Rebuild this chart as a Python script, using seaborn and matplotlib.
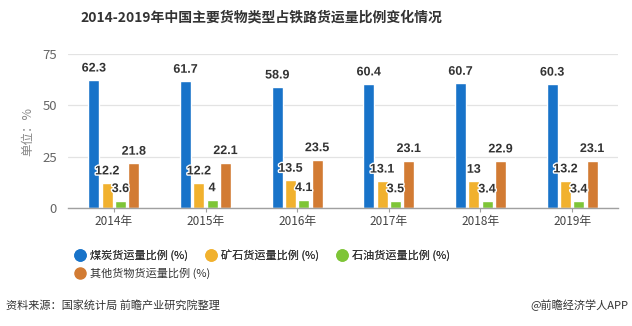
import matplotlib
matplotlib.use("Agg")
import matplotlib.pyplot as plt
import matplotlib.patheffects as pe
from matplotlib.lines import Line2D
import pandas as pd
import seaborn as sns

years = ["2014年", "2015年", "2016年", "2017年", "2018年", "2019年"]
coal = [62.3, 61.7, 58.9, 60.4, 60.7, 60.3]
ore = [12.2, 12.2, 13.5, 13.1, 13, 13.2]
oil = [3.6, 4, 4.1, 3.5, 3.4, 3.4]
other = [21.8, 22.1, 23.5, 23.1, 22.9, 23.1]
series_names = ["煤炭货运量比例 (%)", "矿石货运量比例 (%)", "石油货运量比例 (%)", "其他货物货运量比例 (%)"]
colors = ["#1873c9", "#f1b12e", "#7ec537", "#d27b33"]
y_ticks = [0, 25, 50, 75]

sns.set_theme(style="white")
plt.rcParams["font.family"] = ["Noto Sans CJK SC", "DejaVu Sans"]

rows = []
for name, vals in zip(series_names, [coal, ore, oil, other]):
    for y, v in zip(years, vals):
        rows.append({"year": y, "series": name, "value": v})
df = pd.DataFrame(rows)

fig = plt.figure(figsize=(6.32, 3.26), dpi=100)
ax = fig.add_axes([68 / 632, 1 - 208 / 326, 550 / 632, 154 / 326])

sns.barplot(data=df, x="year", y="value", hue="series", palette=colors,
            width=0.58, gap=0.18, ax=ax, legend=False, saturation=1)

for cont in ax.containers:
    labels = [f"{b.get_height():g}" for b in cont]
    txts = ax.bar_label(cont, labels=labels, padding=4, fontsize=9,
                        fontweight="bold", color="#333333",
                        family=["Liberation Sans", "DejaVu Sans"])
    for t in txts:
        t.set_path_effects([pe.withStroke(linewidth=2, foreground="white")])

ax.set_ylim(0, 75)
ax.set_yticks(y_ticks)
ax.set_xlim(-0.5, len(years) - 0.5)
ax.grid(axis="y", color="#e3e3e3", linewidth=0.9)
ax.set_axisbelow(True)
for s in ["left", "right", "top"]:
    ax.spines[s].set_visible(False)
ax.spines["bottom"].set_color("#a0a0a0")
ax.spines["bottom"].set_linewidth(1)
ax.tick_params(axis="x", length=3, width=0.8, color="#a0a0a0", colors="#444444",
               labelsize=8.5, pad=2, bottom=True)
ax.tick_params(axis="y", length=0, colors="#666666", labelsize=9.5, pad=8)
ax.set_xlabel("")
ax.set_ylabel("单位：%", fontsize=9, color="#888888", labelpad=6)

fig.text(261 / 632, 1 - 18 / 326, "2014-2019年中国主要货物类型占铁路货运量比例变化情况",
         ha="center", va="center", fontsize=10, fontweight="bold", color="#333333")

# legend flows left to right: three entries on the first row, the rest wrap below
handles = [Line2D([0], [0], marker="o", linestyle="", markersize=8,
                  markerfacecolor=c, markeredgecolor=c) for c in colors]
leg_kw = dict(loc="center left", frameon=False, fontsize=8, handletextpad=0.3,
              columnspacing=1.5, handlelength=1.2, borderaxespad=0, borderpad=0,
              labelcolor="#333333")
leg1 = fig.legend(handles[:3], series_names[:3], ncol=3,
                  bbox_to_anchor=(73 / 632, 1 - 255 / 326), **leg_kw)
fig.add_artist(leg1)
fig.legend(handles[3:], series_names[3:], ncol=1,
           bbox_to_anchor=(73 / 632, 1 - 273 / 326), **leg_kw)

fig.text(6 / 632, 1 - 305 / 326, "资料来源：国家统计局 前瞻产业研究院整理",
         ha="left", va="center", fontsize=8, color="#333333")
fig.text(628 / 632, 1 - 305 / 326, "@前瞻经济学人APP",
         ha="right", va="center", fontsize=8, color="#333333")

fig.savefig("out.png", dpi=100)
